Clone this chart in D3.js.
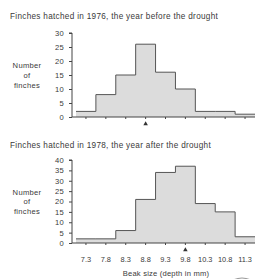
<!DOCTYPE html>
<html>
<head>
<meta charset="utf-8">
<script src="https://cdn.jsdelivr.net/npm/d3@7"></script>
<style>
  body { margin: 0; background: #fff; }
  svg { display: block; font-family: "Liberation Sans", Arial, sans-serif; }
</style>
</head>
<body>
<svg id="chart" width="255" height="279"></svg>
<script>
// beak depth bins (mm), one per bar
const bins = ["7.3", "7.8", "8.3", "8.8", "9.3", "9.8", "10.3", "10.8", "11.3"];
const counts1976 = [2, 8, 15, 26, 16, 10, 2, 2, 1];
const counts1978 = [2, 2, 6, 21, 34, 37, 19, 15, 3];
const ticks1976 = [0, 5, 10, 15, 20, 25, 30];
const ticks1978 = [0, 5, 10, 15, 20, 25, 30, 35, 40];
const mean1976 = "8.8";
const mean1978 = "9.8";

const svg = d3.select("#chart");
const ink = "#444";
const textInk = "#3a3a3a";

const x = d3.scaleBand().domain(bins).range([76, 255]).padding(0);

function panel({ title, titleY, counts, ticks, yMax, y0, y1, mean, showLabels }) {
  const y = d3.scaleLinear().domain([0, yMax]).range([y0, y1]);
  const g = svg.append("g");

  g.append("text")
    .attr("x", 10).attr("y", titleY)
    .attr("font-size", 8.2).attr("letter-spacing", 0.3).attr("fill", textInk)
    .text(title);

  // histogram as a step shape
  const pts = [];
  counts.forEach((c, i) => {
    pts.push([x(bins[i]), y(c)]);
    pts.push([x(bins[i]) + x.bandwidth(), y(c)]);
  });
  const area = d3.area().x(d => d[0]).y0(y(0)).y1(d => d[1]);
  g.append("path").attr("d", area(pts)).attr("fill", "#dcdcdc");
  g.append("path")
    .attr("d", d3.line()(pts))
    .attr("fill", "none").attr("stroke", "#555").attr("stroke-width", 1);

  // y axis
  const yAxis = d3.axisLeft(y).tickValues(ticks).tickSize(3).tickPadding(5);
  const ya = g.append("g").attr("transform", "translate(72,0)").call(yAxis);
  ya.select(".domain").attr("stroke", ink).attr("d", `M-3,${y(yMax)}H0V${y(0)}`);
  ya.selectAll(".tick line").attr("stroke", ink);
  ya.selectAll("text").attr("font-size", 7.6).attr("letter-spacing", 0.3).attr("fill", textInk)
    .attr("font-family", "Liberation Sans, Arial, sans-serif");

  // x axis
  const xAxis = d3.axisBottom(x).tickSize(2).tickPadding(12)
    .tickFormat(showLabels ? (d => d) : () => "");
  const xa = g.append("g").attr("transform", `translate(0,${y(0)})`).call(xAxis);
  xa.select(".domain").attr("stroke", ink).attr("d", `M72,0H255`);
  xa.selectAll(".tick line").attr("stroke", ink);
  xa.selectAll("text").attr("font-size", 7.4).attr("fill", textInk)
    .attr("font-family", "Liberation Sans, Arial, sans-serif");

  // mean marker
  const mx = x(mean) + x.bandwidth() / 2;
  g.append("path")
    .attr("d", d3.symbol(d3.symbolTriangle, 9)())
    .attr("transform", `translate(${mx},${y(0) + 7})`)
    .attr("fill", "#333");

  // y label
  const yl = g.append("text")
    .attr("text-anchor", "middle").attr("font-size", 7.6).attr("letter-spacing", 0.3)
    .attr("fill", textInk);
  ["Number", "of", "finches"].forEach((t, i) => {
    yl.append("tspan").attr("x", 27).attr("y", (y0 + y1) / 2 - 7 + i * 9.8).text(t);
  });
}

panel({
  title: "Finches hatched in 1976, the year before the drought",
  titleY: 19, counts: counts1976, ticks: ticks1976, yMax: 30,
  y0: 117, y1: 33, mean: mean1976, showLabels: false
});

panel({
  title: "Finches hatched in 1978, the year after the drought",
  titleY: 148, counts: counts1978, ticks: ticks1978, yMax: 40,
  y0: 243, y1: 160, mean: mean1978, showLabels: true
});

svg.append("text")
  .attr("x", 166).attr("y", 276)
  .attr("text-anchor", "middle").attr("font-size", 7.6).attr("letter-spacing", 0.2)
  .attr("fill", textInk)
  .text("Beak size (depth in mm)");

// clipped badge edge at lower right
svg.append("ellipse")
  .attr("cx", 242).attr("cy", 284).attr("rx", 11).attr("ry", 6)
  .attr("fill", "none").attr("stroke", "#999").attr("stroke-width", 1.2);
</script>
</body>
</html>
